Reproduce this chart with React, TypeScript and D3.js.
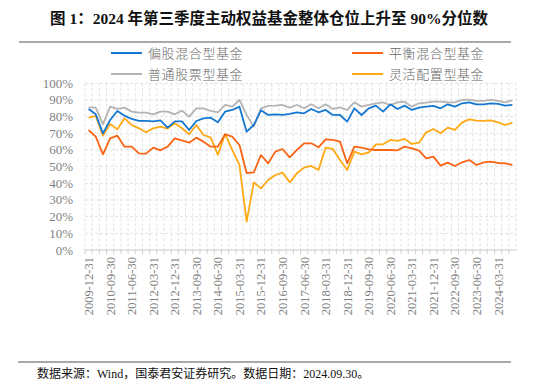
import React from "react";
import * as d3 from "d3";

const quarterEnds = ["03-31", "06-30", "09-30", "12-31"];
const categories: string[] = (() => {
  const out: string[] = ["2009-12-31"];
  for (let y = 2010; y <= 2024; y++) {
    for (let q = 0; q < 4; q++) {
      if (y === 2024 && q === 3) break;
      out.push(`${y}-${quarterEnds[q]}`);
    }
  }
  return out;
})();

const seriesNames = ["偏股混合型基金", "平衡混合型基金", "普通股票型基金", "灵活配置型基金"];

const pianGu = [84.6, 81.4, 70, 78, 83.4, 80.6, 78.6, 77.4, 77.4, 77.2, 77.8, 73.4, 77.2, 77.2, 72, 77.4,
  79, 79.4, 76.6, 83, 84, 86, 71, 75, 83.8, 81, 81.4, 81, 81.6, 82.6,
  82, 84.6, 82.6, 84, 81, 81, 77, 85, 81, 85, 86.6, 83, 87.4, 84.6, 86.6,
  84, 85.4, 86, 86.4, 85, 87.4, 86, 88, 88.6, 87.4, 87.4, 88, 87.6, 86.6, 87];

const pingHeng = [72, 68, 57.4, 67, 68.6, 62, 62, 58, 57.8, 61.4, 59.8, 62, 67, 65.8, 64.4, 67.4,
  65, 62, 62, 69.4, 68, 63, 46.2, 46.6, 57, 52, 59, 60.6, 55.6, 60,
  64, 64, 61.6, 66.4, 66, 65, 52, 62, 61.4, 60.4, 60, 60, 60, 59.8, 62,
  61, 59.6, 55, 56, 50.6, 52.4, 50.4, 52.6, 54, 51, 52.6, 53, 52.2, 52, 51];

const puTong = [85.6, 85.4, 75.4, 86, 84.6, 85.4, 83, 82.4, 82.4, 81.4, 83, 83, 81.4, 83.6, 80, 85,
  85, 83.4, 82.6, 87, 86, 90, 81, 74, 85, 86.4, 86.6, 87, 85.4, 87,
  85, 87.4, 85, 87.4, 84.6, 85.6, 84, 88.6, 86, 87, 88, 88.6, 87, 88.6, 89,
  86, 88, 88.4, 89, 89, 88.6, 88.6, 90, 90.2, 89.4, 89.4, 90, 89.4, 88.6, 89.8];

const lingHuo = [79.4, 80.4, 68.6, 75.6, 72.4, 79, 75, 73, 70.6, 73, 74, 72.8, 76, 73, 69.4, 75,
  69, 67.4, 57, 69.6, 60, 51, 17, 40.6, 37, 42, 45, 46.4, 40.6, 46,
  49.4, 50.4, 48, 61.4, 60.6, 54, 48, 59, 57.4, 58.6, 63.4, 63.4, 66, 65.4, 66.6,
  63.6, 64.4, 70.6, 72.6, 70, 73.4, 72, 76.6, 78.4, 77.6, 77.4, 77.8, 76.6, 75, 76.4];

const seriesColors = ["#1478D2", "#FA6414", "#B4B4B4", "#FFAA14"];
const yTicks = [0, 10, 20, 30, 40, 50, 60, 70, 80, 90, 100];

const W = 560, H = 385;
const plot = { left: 85, right: 516, top: 83.3, bottom: 250 };

export default function App() {
  const data = [pianGu, pingHeng, puTong, lingHuo];
  const x = d3.scaleBand<string>().domain(categories).range([plot.left, plot.right]).paddingInner(0).paddingOuter(0);
  const y = d3.scaleLinear().domain([0, 100]).range([plot.bottom, plot.top]);
  const cx = (c: string) => (x(c) as number) + x.bandwidth() / 2;
  const line = d3.line<number>().x((_, i) => cx(categories[i])).y((v) => y(v));
  const labelFont = "'Liberation Serif', 'Times New Roman', serif";
  const cjk = "'Liberation Serif', 'Noto Sans CJK SC', sans-serif";
  const order = [2, 3, 1, 0];
  const legendPos = [
    { x: 111, y: 53 }, { x: 352, y: 53 }, { x: 111, y: 74 }, { x: 352, y: 74 },
  ];
  return (
    <svg width={W} height={H} style={{ position: "absolute", left: 0, top: 0, background: "#fff" }}>
      <text x={269} y={24} textAnchor="middle" fontFamily={cjk} fontWeight="bold" fontSize={15.5} fill="#111">
        图 1：2024 年第三季度主动权益基金整体仓位上升至 90%分位数
      </text>
      <line x1={19} x2={511} y1={42} y2={42} stroke="#555" strokeWidth={1.2} />
      {yTicks.map((t) => (
        <line key={"h" + t} x1={plot.left} x2={plot.right} y1={y(t)} y2={y(t)} stroke="#E2E2E2" strokeWidth={1} strokeDasharray="3,2" />
      ))}
      {categories.map((c) => (
        <line key={"v" + c} x1={x(c) as number} x2={x(c) as number} y1={plot.top} y2={plot.bottom} stroke="#E2E2E2" strokeWidth={1} strokeDasharray="3,2" />
      ))}
      <line x1={plot.right} x2={plot.right} y1={plot.top} y2={plot.bottom} stroke="#E2E2E2" strokeWidth={1} strokeDasharray="3,2" />
      <line x1={plot.left} x2={plot.right} y1={plot.bottom} y2={plot.bottom} stroke="#D0D0D0" strokeWidth={1} />
      {categories.map((c) => (
        <line key={"t" + c} x1={x(c) as number} x2={x(c) as number} y1={plot.bottom} y2={plot.bottom + 4} stroke="#D0D0D0" strokeWidth={1} />
      ))}
      {yTicks.map((t) => (
        <text key={"yl" + t} x={73} y={y(t) + 4.5} textAnchor="end" fontFamily={labelFont} fontSize={13} fill="#7F7F7F">
          {t}%
        </text>
      ))}
      {categories.map((c, i) =>
        i % 3 === 0 ? (
          <text key={"xl" + c} transform={`translate(${cx(c) + 4.5},${plot.bottom + 7}) rotate(-90)`} textAnchor="end"
            fontFamily={labelFont} fontSize={12.5} fill="#7F7F7F">
            {c}
          </text>
        ) : null
      )}
      {order.map((k) => (
        <path key={"s" + k} d={line(data[k]) || ""} fill="none" stroke={seriesColors[k]} strokeWidth={1.8} strokeLinejoin="round" />
      ))}
      {seriesNames.map((n, k) => (
        <g key={"lg" + k}>
          <line x1={legendPos[k].x} x2={legendPos[k].x + 31} y1={legendPos[k].y} y2={legendPos[k].y} stroke={seriesColors[k]} strokeWidth={2} />
          <text x={legendPos[k].x + 37} y={legendPos[k].y + 4.5} fontFamily="'Noto Sans CJK SC', sans-serif" fontWeight={300} fontSize={13} letterSpacing={0.6} fill="#666">
            {n}
          </text>
        </g>
      ))}
      <line x1={18} x2={511} y1={362} y2={362} stroke="#555" strokeWidth={1.2} />
      <text x={37} y={378} fontFamily={cjk} fontSize={12} fill="#111">
        数据来源：Wind，国泰君安证券研究。数据日期：2024.09.30。
      </text>
    </svg>
  );
}
